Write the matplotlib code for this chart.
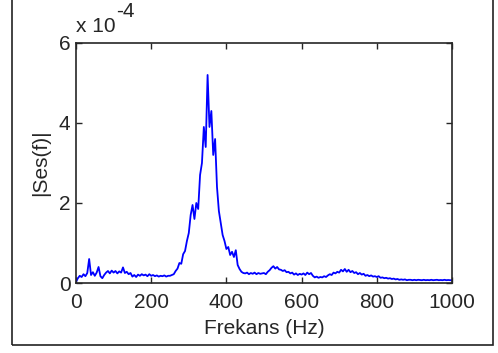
import numpy as np
import matplotlib
matplotlib.use('Agg')
import matplotlib.pyplot as plt
from matplotlib.patches import Rectangle

plt.rcParams['font.family'] = ['Liberation Sans', 'DejaVu Sans']

# spectrum magnitude, every 5 Hz (units of 1e-4)
freq_hz = np.arange(0, 1001, 5)
ses_e4 = [
    0.03, 0.12, 0.18, 0.15, 0.22, 0.17, 0.25, 0.60, 0.20, 0.27,
    0.18, 0.26, 0.40, 0.17, 0.12, 0.20, 0.26, 0.30, 0.24, 0.31,
    0.26, 0.30, 0.24, 0.29, 0.26, 0.39, 0.25, 0.28, 0.22, 0.25,
    0.16, 0.20, 0.15, 0.21, 0.18, 0.22, 0.19, 0.21, 0.17, 0.22,
    0.18, 0.20, 0.17, 0.19, 0.16, 0.18, 0.17, 0.19, 0.16, 0.18,
    0.18, 0.20, 0.22, 0.30, 0.36, 0.50, 0.48, 0.72, 0.80, 1.05,
    1.25, 1.70, 1.95, 1.60, 2.00, 1.85, 2.70, 3.00, 3.90, 3.40,
    5.20, 3.90, 4.30, 3.20, 3.60, 2.40, 1.80, 1.50, 1.20, 1.05,
    0.85, 0.90, 0.70, 0.78, 0.65, 0.82, 0.45, 0.35, 0.28, 0.25,
    0.24, 0.26, 0.22, 0.25, 0.23, 0.26, 0.22, 0.25, 0.23, 0.24,
    0.25, 0.22, 0.28, 0.32, 0.38, 0.42, 0.36, 0.40, 0.34, 0.33,
    0.30, 0.32, 0.27, 0.28, 0.24, 0.26, 0.21, 0.24, 0.20, 0.23,
    0.21, 0.24, 0.20, 0.26, 0.22, 0.25, 0.18, 0.14, 0.16, 0.13,
    0.15, 0.14, 0.17, 0.15, 0.19, 0.22, 0.20, 0.26, 0.24, 0.28,
    0.26, 0.33, 0.29, 0.35, 0.28, 0.33, 0.27, 0.30, 0.25, 0.27,
    0.22, 0.25, 0.21, 0.23, 0.18, 0.20, 0.17, 0.19, 0.16, 0.17,
    0.15, 0.17, 0.13, 0.14, 0.12, 0.13, 0.11, 0.12, 0.10, 0.11,
    0.09, 0.10, 0.08, 0.09, 0.08, 0.09, 0.07, 0.08, 0.08, 0.07,
    0.08, 0.07, 0.08, 0.075, 0.07, 0.08, 0.07, 0.075, 0.07, 0.08,
    0.07, 0.075, 0.08, 0.07, 0.075, 0.07, 0.08, 0.07, 0.075, 0.07,
    0.07,
]
xticks = [0, 200, 400, 600, 800, 1000]
yticks = [0, 2, 4, 6]

fig = plt.figure(figsize=(4.98, 3.53), dpi=100)
ax = fig.add_axes([0.1526, 0.1983, 0.755, 0.680])
ax.plot(freq_hz, np.array(ses_e4) * 1e-4, color='#0000ff', lw=1.3)

ax.set_xlim(0, 1000)
ax.set_ylim(0, 6e-4)
ax.set_xticks(xticks)
ax.set_xticklabels([str(t) for t in xticks])
ax.set_yticks([t * 1e-4 for t in yticks])
ax.set_yticklabels([str(t) for t in yticks])
ax.tick_params(direction='in', top=True, right=True, length=4, width=1,
               labelsize=15, pad=4, colors='#262626')
ax.tick_params(axis='x', pad=7)
for s in ax.spines.values():
    s.set_color('#262626')
    s.set_linewidth(1.2)

ax.set_xlabel('Frekans (Hz)', fontsize=15, color='#262626', labelpad=5)
ax.set_ylabel('|Ses(f)|', fontsize=15, color='#262626', labelpad=6)

# MATLAB style exponent label
fig.text(76 / 498, 1 - 32 / 353, 'x 10', fontsize=15, color='#262626')
fig.text(116 / 498, 1 - 17 / 353, '-4', fontsize=15, color='#262626')

# frame around the figure
fig.patches.append(Rectangle((12 / 498, 8 / 353), 481 / 498, 1.0,
                             transform=fig.transFigure, fill=False,
                             edgecolor='#222222', lw=1.2))

fig.savefig('out.png', dpi=100)
